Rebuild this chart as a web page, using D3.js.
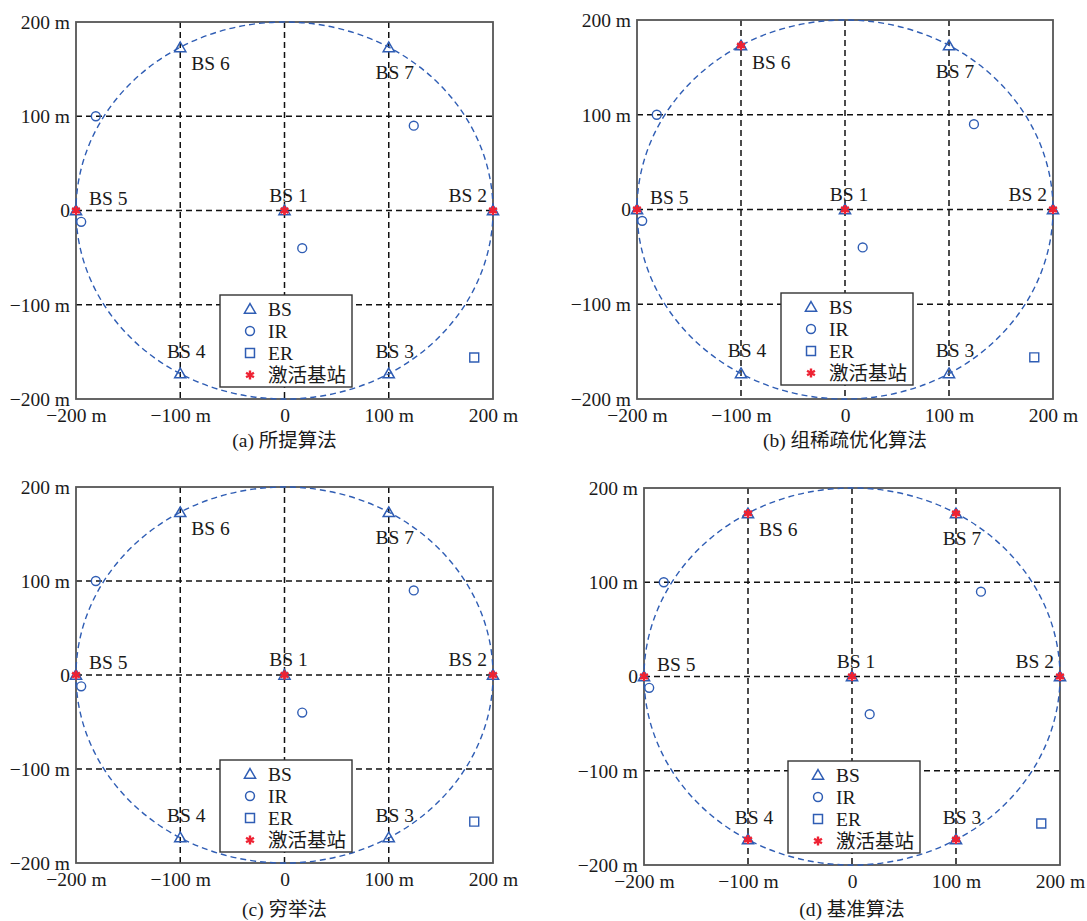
<!DOCTYPE html>
<html>
<head>
<meta charset="utf-8">
<script src="https://cdn.jsdelivr.net/npm/d3@7"></script>
<style>
  body { margin: 0; background: #fff; }
  text { font-family: "Liberation Serif", "Noto Sans CJK SC", serif; fill: #1a1a1a; }
</style>
</head>
<body>
<svg id="chart" width="1087" height="921"></svg>
<script>
// ---- data ----
const bsNames = ['BS 1', 'BS 2', 'BS 3', 'BS 4', 'BS 5', 'BS 6', 'BS 7'];
const bsX = [0, 200, 100, -100, -200, -100, 100];
const bsY = [0, 0, -173, -173, 0, 173, 173];

const irX = [-181, -195, 124, 17];
const irY = [100, -12, 90, -40];

const erX = [182];
const erY = [-156];

const cellRadius = 200;

const panelCaptions = ['(a) 所提算法', '(b) 组稀疏优化算法', '(c) 穷举法', '(d) 基准算法'];
// active base stations (indices into bsNames) for each panel
const activeBS = [
    [0, 1, 4],
    [0, 1, 4, 5],
    [0, 1, 4],
    [0, 1, 2, 3, 4, 5, 6]
];

const tickValues = [-200, -100, 0, 100, 200];
const tickLabels = ['\u2212200 m', '\u2212100 m', '0', '100 m', '200 m'];
const legendLabels = ['BS', 'IR', 'ER', '激活基站'];

// ---- layout ----
const panels = [
    { left: 76, top: 22, width: 417, height: 377, captionY: 447 },
    { left: 637, top: 20, width: 416, height: 379, captionY: 447 },
    { left: 76, top: 487, width: 417, height: 376, captionY: 916 },
    { left: 644, top: 488, width: 416, height: 377, captionY: 916 }
];

// where each BS label sits relative to its marker
const labelPlacement = [
    { dx: 4, dy: -9, anchor: 'middle' },
    { dx: -6, dy: -9, anchor: 'end' },
    { dx: 6, dy: -16, anchor: 'middle' },
    { dx: 6, dy: -16, anchor: 'middle' },
    { dx: 13, dy: -6, anchor: 'start' },
    { dx: 11, dy: 23, anchor: 'start' },
    { dx: 6, dy: 32, anchor: 'middle' }
];

const blue = '#2f5db4';
const red = '#ee2233';
const fontSize = '19.5px';

const svg = d3.select('#chart');

const triangle = d3.symbol().type(d3.symbolTriangle).size(54);
const circle = d3.symbol().type(d3.symbolCircle).size(62);
const square = d3.symbol().type(d3.symbolSquare).size(80);
const star = d3.symbol().type(d3.symbolAsterisk).size(58);

panels.forEach((p, i) => {
    const x = d3.scaleLinear().domain([-200, 200]).range([0, p.width]);
    const y = d3.scaleLinear().domain([-200, 200]).range([p.height, 0]);

    const g = svg.append('g')
        .attr('transform', `translate(${p.left},${p.top})`);

    // grid lines
    const gridVals = tickValues.filter(v => Math.abs(v) < 200);
    g.selectAll('.grid-v')
        .data(gridVals)
        .join('line')
        .attr('x1', d => x(d)).attr('x2', d => x(d))
        .attr('y1', 0).attr('y2', p.height)
        .attr('stroke', '#111').attr('stroke-width', 1.5)
        .attr('stroke-dasharray', '6,4');
    g.selectAll('.grid-h')
        .data(gridVals)
        .join('line')
        .attr('x1', 0).attr('x2', p.width)
        .attr('y1', d => y(d)).attr('y2', d => y(d))
        .attr('stroke', '#111').attr('stroke-width', 1.5)
        .attr('stroke-dasharray', '6,4');

    // frame
    g.append('rect')
        .attr('width', p.width).attr('height', p.height)
        .attr('fill', 'none')
        .attr('stroke', '#555').attr('stroke-width', 1.8);

    // axes (labels only)
    const xAxis = d3.axisBottom(x).tickValues(tickValues)
        .tickFormat((d, k) => tickLabels[k]).tickSize(0).tickPadding(9);
    const yAxis = d3.axisLeft(y).tickValues(tickValues)
        .tickFormat((d, k) => tickLabels[k]).tickSize(0).tickPadding(6);

    const xg = g.append('g').attr('transform', `translate(0,${p.height})`).call(xAxis);
    const yg = g.append('g').call(yAxis);
    [xg, yg].forEach(a => {
        a.select('.domain').remove();
        a.selectAll('text')
            .style('font-family', '"Liberation Serif", serif')
            .style('font-size', fontSize)
            .attr('fill', '#1a1a1a');
    });

    // cell boundary
    g.append('ellipse')
        .attr('cx', x(0)).attr('cy', y(0))
        .attr('rx', x(cellRadius) - x(0))
        .attr('ry', y(0) - y(cellRadius))
        .attr('fill', 'none')
        .attr('stroke', blue).attr('stroke-width', 1.4)
        .attr('stroke-dasharray', '6,4');

    // IR
    g.selectAll('.ir')
        .data(irX.map((v, k) => [v, irY[k]]))
        .join('path')
        .attr('d', circle)
        .attr('transform', d => `translate(${x(d[0])},${y(d[1])})`)
        .attr('fill', 'none').attr('stroke', blue).attr('stroke-width', 1.4);

    // ER
    g.selectAll('.er')
        .data(erX.map((v, k) => [v, erY[k]]))
        .join('path')
        .attr('d', square)
        .attr('transform', d => `translate(${x(d[0])},${y(d[1])})`)
        .attr('fill', 'none').attr('stroke', blue).attr('stroke-width', 1.4);

    // BS
    const bsData = bsNames.map((n, k) => ({ name: n, x: bsX[k], y: bsY[k], k: k }));
    g.selectAll('.bs')
        .data(bsData)
        .join('path')
        .attr('d', triangle)
        .attr('transform', d => `translate(${x(d.x)},${y(d.y) + 1})`)
        .attr('fill', 'none').attr('stroke', blue).attr('stroke-width', 1.5);

    // active BS
    g.selectAll('.active')
        .data(activeBS[i].map(k => bsData[k]))
        .join('path')
        .attr('d', star)
        .attr('transform', d => `translate(${x(d.x)},${y(d.y)})`)
        .attr('fill', 'none').attr('stroke', red).attr('stroke-width', 2.6);

    // BS labels
    g.selectAll('.bs-label')
        .data(bsData)
        .join('text')
        .attr('x', d => x(d.x) + labelPlacement[d.k].dx)
        .attr('y', d => y(d.y) + labelPlacement[d.k].dy)
        .attr('text-anchor', d => labelPlacement[d.k].anchor)
        .style('font-size', fontSize)
        .text(d => d.name);

    // legend
    const lg = g.append('g').attr('transform', 'translate(144,273)');
    lg.append('rect')
        .attr('width', 132).attr('height', 92)
        .attr('fill', '#fff').attr('stroke', '#333').attr('stroke-width', 1.4);
    const legendSymbols = [triangle, circle, square, star];
    legendLabels.forEach((lab, k) => {
        const ly = 14 + k * 22;
        lg.append('path')
            .attr('d', legendSymbols[k])
            .attr('transform', `translate(30,${ly + (k === 0 ? 1 : 0)})`)
            .attr('fill', 'none')
            .attr('stroke', k === 3 ? red : blue)
            .attr('stroke-width', k === 3 ? 2.4 : 1.5);
        lg.append('text')
            .attr('x', 48).attr('y', ly)
            .attr('dy', '0.35em')
            .style('font-size', fontSize)
            .text(lab);
    });

    // caption
    svg.append('text')
        .attr('x', p.left + p.width / 2)
        .attr('y', p.captionY)
        .attr('text-anchor', 'middle')
        .style('font-size', fontSize)
        .text(panelCaptions[i]);
});
</script>
</body>
</html>
